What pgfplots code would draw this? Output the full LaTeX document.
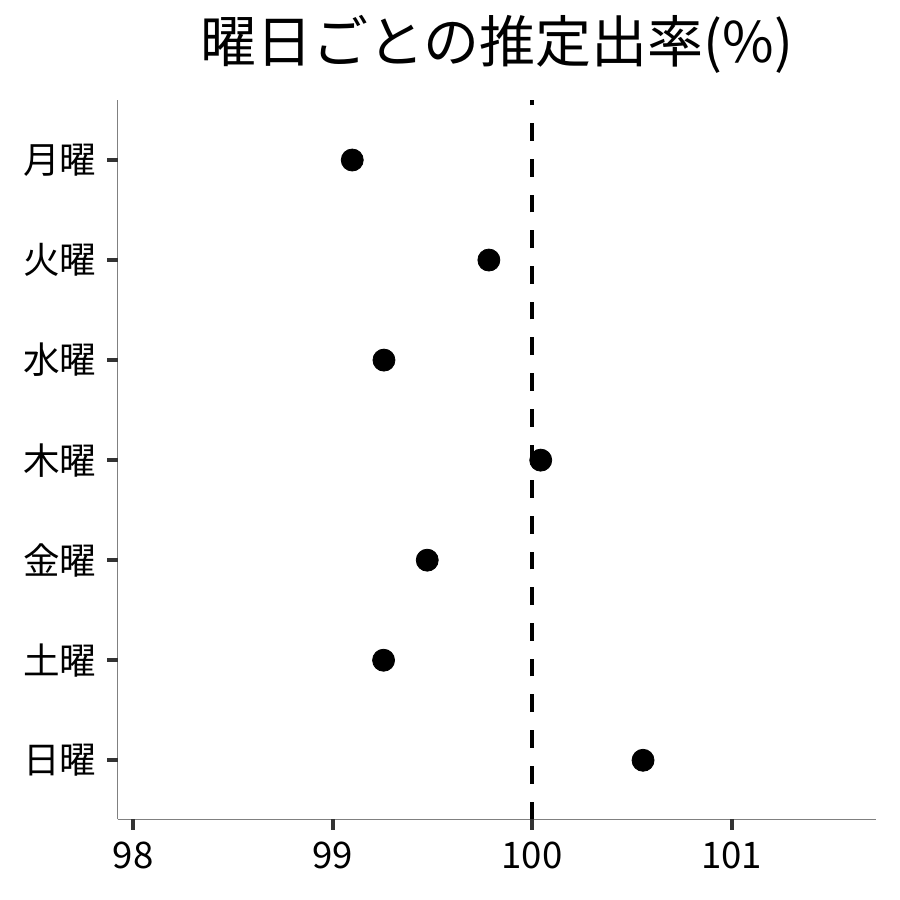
\documentclass[border=0pt]{standalone}
\usepackage{fontspec}
\setmainfont{Noto Sans CJK JP}
\usepackage{pgfplots}
\usepackage{pgfplotstable}
\pgfplotsset{compat=1.18}
\definecolor{axisgray}{HTML}{808080}
\definecolor{tickgray}{HTML}{333333}

% weekday position (bottom = 1) and estimated rate in percent
\pgfplotstableread{
pos  rate
1    100.556
2    99.255
3    99.474
4    100.043
5    99.257
6    99.783
7    99.098
}\ratedata

\begin{document}
\begin{tikzpicture}
\useasboundingbox (0,0) rectangle (450pt,450pt);
\begin{axis}[
  at={(58.85pt,40.35pt)}, anchor=south west,
  scale only axis, width=379.15pt, height=359.65pt,
  xmin=97.922, xmax=101.724,
  ymin=0.41, ymax=7.6,
  clip=false,
  axis x line*=bottom, axis y line*=left,
  x axis line style={-, draw=axisgray},
  y axis line style={-, draw=axisgray},
  every outer x axis line/.append style={line width=0.6pt},
  every outer y axis line/.append style={line width=0.6pt},
  xtick={98,99,100,101},
  ytick={1,...,7},
  yticklabels={日曜,土曜,金曜,木曜,水曜,火曜,月曜},
  minor tick num=0,
  tick align=outside,
  major tick length=5.5pt,
  tick style={draw=none},
  ticklabel style={font=\fontsize{18.3}{21}\selectfont, text=black},
  xticklabel style={inner sep=0pt, anchor=north, yshift=-5.7pt},
  yticklabel style={inner sep=0pt, anchor=east, xshift=-4.85pt},
  /pgf/number format/assume math mode=true,
]
% tick marks
\pgfplotsinvokeforeach{98,99,100,101}{
  \draw[tickgray, line width=2pt] (axis cs:#1,0.41) -- ++(0pt,-5.5pt);
}
\pgfplotsinvokeforeach{1,...,7}{
  \draw[tickgray, line width=2pt] (axis cs:97.922,#1) -- ++(-5.5pt,0pt);
}
\addplot[black, line width=2pt, dash pattern=on 8.85pt off 9pt] coordinates {(100,0.41) (100,7.6)};
\addplot[only marks, mark=*, mark size=5.5pt, black] table[x=rate, y=pos] {\ratedata};
\end{axis}
\node[anchor=base, font=\fontsize{28}{34}\selectfont] at (248.4pt,418.5pt) {曜日ごとの推定出率(\%)};
\end{tikzpicture}
\end{document}
